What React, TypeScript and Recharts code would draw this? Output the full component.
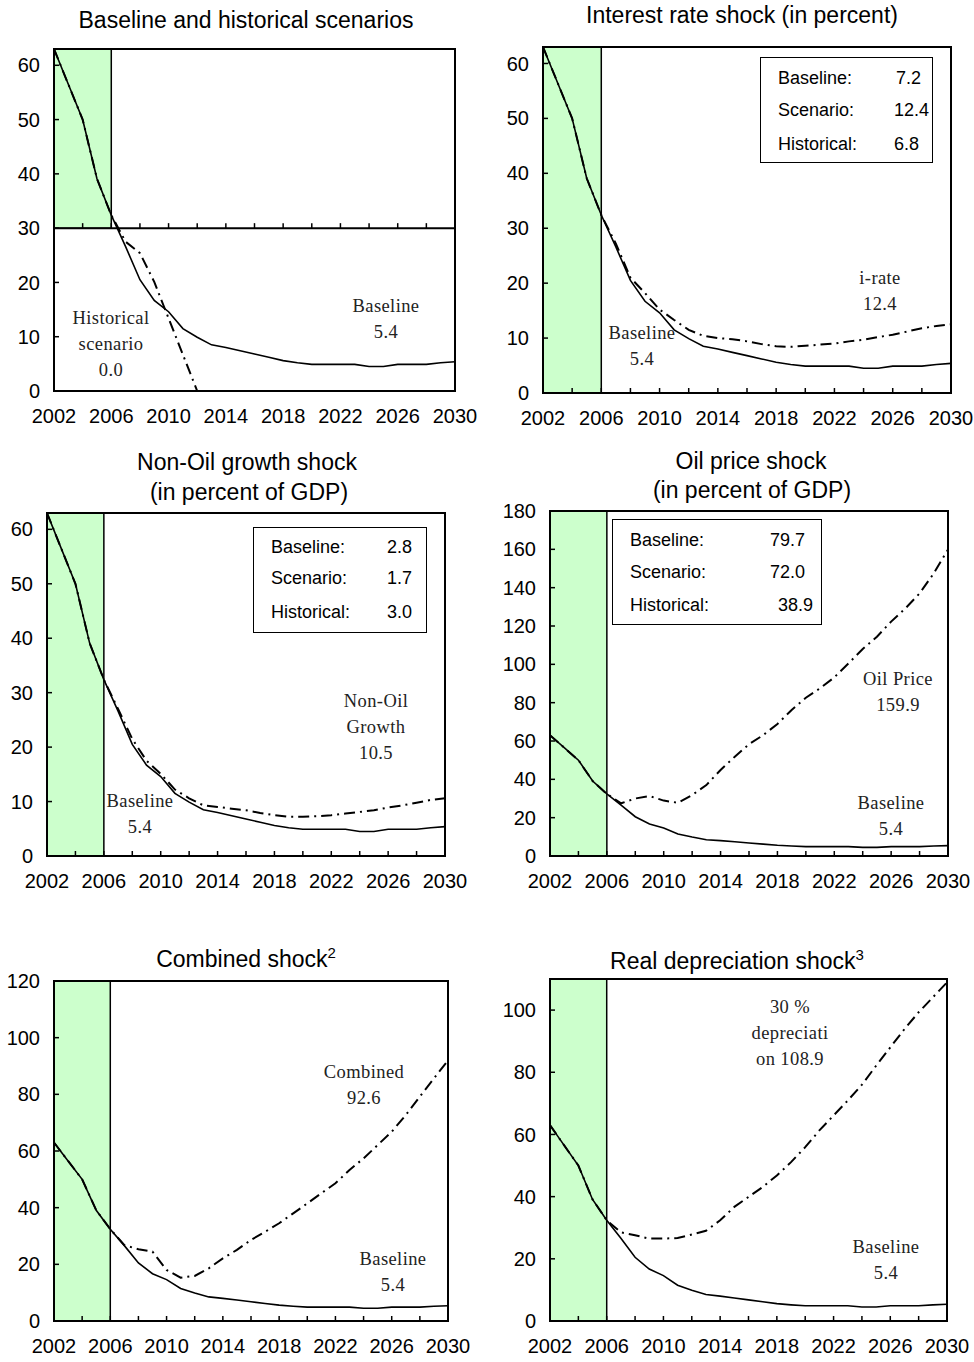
import React from 'react';
import { LineChart, Line, XAxis, YAxis, ReferenceArea, ReferenceDot, ReferenceLine } from 'recharts';

// ---------- DATA ----------
const years = [2002, 2003, 2004, 2005, 2006, 2007, 2008, 2009, 2010, 2011, 2012, 2013, 2014, 2015, 2016,
  2017, 2018, 2019, 2020, 2021, 2022, 2023, 2024, 2025, 2026, 2027, 2028, 2029, 2030];
const xTicks = [2002, 2004, 2006, 2008, 2010, 2012, 2014, 2016, 2018, 2020, 2022, 2024, 2026, 2028, 2030];
const xLabelYears = [2002, 2006, 2010, 2014, 2018, 2022, 2026, 2030];

const baseline = [63, 56.5, 50, 39.1, 32.4, 26.6, 20.5, 16.7, 14.6, 11.5, 9.9, 8.5, 8.0, 7.4, 6.8,
  6.2, 5.6, 5.2, 4.9, 4.9, 4.9, 4.9, 4.5, 4.5, 4.9, 4.9, 4.9, 5.2, 5.4];
const historical = [63, 56.5, 50, 39.1, 32.4, 27.5, 25.4, 20.1, 13.4, 6.7, 0, 0, 0, 0, 0,
  0, 0, 0, 0, 0, 0, 0, 0, 0, 0, 0, 0, 0, 0];
const interestRate = [63, 56.5, 50, 39.1, 32.4, 27.2, 21, 18.2, 15.2, 13.3, 11.5, 10.4, 10.0, 9.8, 9.4,
  8.9, 8.5, 8.4, 8.6, 8.8, 9.0, 9.4, 9.7, 10.2, 10.6, 11.2, 11.8, 12.2, 12.5];
const nonOilGrowth = [63, 56.5, 50, 39.1, 32.4, 27, 21.5, 17.5, 15.1, 12.2, 10.6, 9.3, 9.0, 8.7, 8.4,
  7.9, 7.5, 7.2, 7.2, 7.3, 7.5, 7.8, 8.1, 8.4, 8.9, 9.3, 9.8, 10.3, 10.6];
const oilPrice = [63, 56.5, 50, 39.1, 32.4, 27.5, 30, 31.3, 28.9, 27.8, 31.8, 37, 44.9, 51.8, 58.3,
  63.1, 68.9, 76.2, 82.6, 87.5, 93.2, 100.5, 108, 114.4, 122.3, 129.2, 137, 147.5, 159.9];
const combined = [63, 56.5, 50, 39.1, 32.4, 26.8, 25.3, 24.5, 18, 15.3, 15.9, 18.6, 22.1, 25.1, 28.6,
  31.5, 34.5, 38, 41.5, 45.1, 48.6, 53.3, 57.4, 62.1, 66.8, 72.7, 79.2, 85.6, 92.0];
const depreciation = [63, 56.5, 50, 39.1, 32.4, 28.5, 27.6, 26.5, 26.5, 26.7, 27.8, 29, 32.4, 36.7, 39.9,
  43.1, 46.8, 51.1, 55.9, 61.3, 66.1, 70.9, 76, 82.1, 88, 93.9, 99.3, 104.1, 108.9];

const yTicks60 = [0, 10, 20, 30, 40, 50, 60];
const yTicks180 = [0, 20, 40, 60, 80, 100, 120, 140, 160, 180];
const yTicks120 = [0, 20, 40, 60, 80, 100, 120];
const yTicks100 = [0, 20, 40, 60, 80, 100];

const summaryLabels = ['Baseline:', 'Scenario:', 'Historical:'];
const interestSummary = ['7.2', '12.4', '6.8'];
const nonOilSummary = ['2.8', '1.7', '3.0'];
const oilSummary = ['79.7', '72.0', '38.9'];

// ---------- STYLE ----------
const SANS = '"Liberation Sans", Arial, sans-serif';
const SERIF = '"Liberation Serif", "Times New Roman", serif';
const GREEN = '#CCFFCC';
const DASH = '11 5 2 5';

const fmtYear = (v: number) => (xLabelYears.includes(v) ? String(v) : '');

type PanelProps = {
  plotLeft: number; plotTop: number; plotW: number; plotH: number;
  yMax: number; yTicks: number[]; scenario: number[]; shadeFrom: number; axisAt?: number;
};

function Panel(p: PanelProps) {
  const data = years.map((yr, i) => ({ year: yr, baseline: baseline[i], scenario: p.scenario[i] }));
  const ML = 60, MT = 10, MR = 30, XH = 44;
  const hasCross = p.axisAt !== undefined;
  return (
    <div style={{ position: 'absolute', left: p.plotLeft - ML, top: p.plotTop - MT }}>
      <LineChart width={p.plotW + ML + MR} height={p.plotH + MT + XH} data={data}
        margin={{ top: MT, right: MR, bottom: 0, left: 0 }}>
        <ReferenceArea x1={2002} x2={2006} y1={p.shadeFrom} y2={p.yMax} fill={GREEN} fillOpacity={1}
          stroke="#000" strokeWidth={1.5} />
        <XAxis dataKey="year" type="number" domain={[2002, 2030]} ticks={xTicks} interval={0}
          tickFormatter={fmtYear} height={XH} tickSize={-5} tickMargin={23}
          tickLine={hasCross ? false : { stroke: '#000', strokeWidth: 1.5 }}
          axisLine={{ stroke: '#000', strokeWidth: 2 }}
          tick={{ fill: '#000', fontSize: 20, fontFamily: SANS }} />
        <YAxis type="number" domain={[0, p.yMax]} ticks={p.yTicks} interval={0} width={ML}
          tickSize={-5} tickMargin={19}
          tickLine={{ stroke: '#000', strokeWidth: 1.5 }}
          axisLine={{ stroke: '#000', strokeWidth: 2 }}
          tick={{ fill: '#000', fontSize: 20, fontFamily: SANS }} />
        <ReferenceArea x1={2002} x2={2030} y1={0} y2={p.yMax} fill="none" stroke="#000" strokeWidth={2} />
        {hasCross && <ReferenceLine y={p.axisAt} stroke="#000" strokeWidth={2} />}
        {hasCross && xTicks.map((t) => (
          <ReferenceDot key={t} x={t} y={p.axisAt as number} r={2}
            shape={(sp: any) => (
              <line x1={sp.cx} y1={sp.cy} x2={sp.cx} y2={sp.cy - 5} stroke="#000" strokeWidth={1.5} />
            )} />
        ))}
        <Line type="linear" dataKey="scenario" stroke="#000" strokeWidth={2} strokeDasharray={DASH}
          dot={false} isAnimationActive={false} />
        <Line type="linear" dataKey="baseline" stroke="#000" strokeWidth={1.6}
          dot={false} isAnimationActive={false} />
      </LineChart>
    </div>
  );
}

function Title({ cx, cy, children }: { cx: number; cy: number; children: React.ReactNode }) {
  return (
    <div style={{
      position: 'absolute', left: cx - 240, top: cy - 16, width: 480, textAlign: 'center',
      fontFamily: SANS, fontSize: 23, lineHeight: '32px', color: '#000', whiteSpace: 'nowrap',
    }}>{children}</div>
  );
}

function Note({ cx, cy, lines }: { cx: number; cy: number; lines: string[] }) {
  return (
    <div style={{
      position: 'absolute', left: cx - 100, top: cy - 13, width: 200, textAlign: 'center',
      fontFamily: SERIF, fontSize: 18.5, lineHeight: '26px', color: '#222', letterSpacing: 0.4,
    }}>
      {lines.map((l, i) => <div key={i}>{l}</div>)}
    </div>
  );
}

function Summary({ left, top, width, height, valueX, values, rowY }: {
  left: number; top: number; width: number; height: number; valueX: number[]; values: string[]; rowY: number[];
}) {
  return (
    <div style={{
      position: 'absolute', left, top, width, height, border: '1.5px solid #000', background: '#fff',
      boxSizing: 'border-box', fontFamily: SANS, fontSize: 18, color: '#000',
    }}>
      {summaryLabels.map((lab, i) => (
        <React.Fragment key={lab}>
          <div style={{ position: 'absolute', left: 17, top: rowY[i] - 10, lineHeight: '20px' }}>{lab}</div>
          <div style={{ position: 'absolute', left: valueX[i], top: rowY[i] - 10, lineHeight: '20px' }}>{values[i]}</div>
        </React.Fragment>
      ))}
    </div>
  );
}

export default function App() {
  return (
    <div style={{ position: 'absolute', left: 0, top: 0, width: 974, height: 1362, background: '#fff', overflow: 'hidden' }}>
      {/* Panel 1 */}
      <Title cx={246} cy={20}>Baseline and historical scenarios</Title>
      <Panel plotLeft={54} plotTop={49} plotW={401} plotH={342} yMax={63} yTicks={yTicks60}
        scenario={historical} shadeFrom={30} axisAt={30} />
      <Note cx={111} cy={318} lines={['Historical', 'scenario', '0.0']} />
      <Note cx={386} cy={306} lines={['Baseline', '5.4']} />

      {/* Panel 2 */}
      <Title cx={742} cy={15}>Interest rate shock (in percent)</Title>
      <Panel plotLeft={543} plotTop={47} plotW={408} plotH={346} yMax={63} yTicks={yTicks60}
        scenario={interestRate} shadeFrom={0} />
      <Summary left={760} top={57} width={173} height={106} valueX={[135, 133, 133]}
        values={interestSummary} rowY={[20, 52, 86]} />
      <Note cx={880} cy={278} lines={['i-rate', '12.4']} />
      <Note cx={642} cy={333} lines={['Baseline', '5.4']} />

      {/* Panel 3 */}
      <Title cx={247} cy={462}>Non-Oil growth shock</Title>
      <Title cx={249} cy={492}>(in percent of GDP)</Title>
      <Panel plotLeft={47} plotTop={513} plotW={398} plotH={343} yMax={63} yTicks={yTicks60}
        scenario={nonOilGrowth} shadeFrom={0} />
      <Summary left={253} top={527} width={174} height={106} valueX={[133, 133, 133]}
        values={nonOilSummary} rowY={[19, 50, 84]} />
      <Note cx={376} cy={701} lines={['Non-Oil', 'Growth', '10.5']} />
      <Note cx={140} cy={801} lines={['Baseline', '5.4']} />

      {/* Panel 4 */}
      <Title cx={751} cy={461}>Oil price shock</Title>
      <Title cx={752} cy={490}>(in percent of GDP)</Title>
      <Panel plotLeft={550} plotTop={511} plotW={398} plotH={345} yMax={180} yTicks={yTicks180}
        scenario={oilPrice} shadeFrom={0} />
      <Summary left={612} top={519} width={210} height={106} valueX={[157, 157, 165]}
        values={oilSummary} rowY={[20, 52, 85]} />
      <Note cx={898} cy={679} lines={['Oil Price', '159.9']} />
      <Note cx={891} cy={803} lines={['Baseline', '5.4']} />

      {/* Panel 5 */}
      <Title cx={246} cy={953}>Combined shock<sup style={{ fontSize: 15 }}>2</sup></Title>
      <Panel plotLeft={54} plotTop={981} plotW={394} plotH={340} yMax={120} yTicks={yTicks120}
        scenario={combined} shadeFrom={0} />
      <Note cx={364} cy={1072} lines={['Combined', '92.6']} />
      <Note cx={393} cy={1259} lines={['Baseline', '5.4']} />

      {/* Panel 6 */}
      <Title cx={737} cy={955}>Real depreciation shock<sup style={{ fontSize: 15 }}>3</sup></Title>
      <Panel plotLeft={550} plotTop={979} plotW={397} plotH={342} yMax={110} yTicks={yTicks100}
        scenario={depreciation} shadeFrom={0} />
      <Note cx={790} cy={1007} lines={['30 %', 'depreciati', 'on 108.9']} />
      <Note cx={886} cy={1247} lines={['Baseline', '5.4']} />
    </div>
  );
}
